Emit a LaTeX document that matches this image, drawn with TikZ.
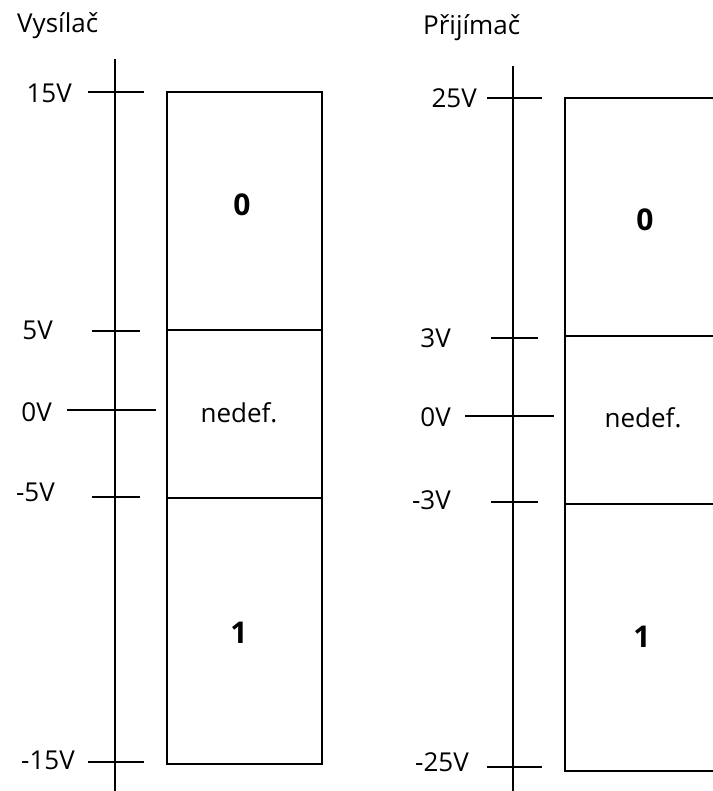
\documentclass[tikz,border=0pt]{standalone}
\usepackage{fontspec}
\setmainfont{Open Sans}
\begin{document}
\begin{tikzpicture}[x=1pt,y=-1pt,
  ln/.style={line width=2pt,black},
  lbl/.style={anchor=east,inner sep=0pt,font=\fontsize{26}{30}\selectfont},
  val/.style={inner sep=0pt,font=\fontsize{26}{30}\selectfont},
  bit/.style={inner sep=0pt,font=\fontsize{30}{34}\selectfont\bfseries},
  ttl/.style={anchor=base west,inner sep=0pt,font=\fontsize{26}{30}\selectfont}]
\useasboundingbox (0,0) rectangle (712,791);

% transmitter side
\node[ttl] (tT) at (17,33) {Vysílač};
\coordinate (aTtop) at (115,59);
\coordinate (aTbot) at (115,791);
\draw[ln] (aTtop) -- (aTbot);
\draw[ln] (88,92) -- (144,92);
\draw[ln] (92,331) -- (140,331);
\draw[ln] (67,410) -- (156,410);
\draw[ln] (92,497) -- (140,497);
\draw[ln] (88,762) -- (144,762);
\node[lbl] (t15) at (72,93) {15V};
\node[lbl] (t5) at (53,330) {5V};
\node[lbl] (t0) at (52,412) {0V};
\node[lbl] (tm5) at (55,492) {-5V};
\node[lbl] (tm15) at (75,760) {-15V};
\draw[ln] (167,92) rectangle (322,764);
\draw[ln] (167,330) -- (322,330);
\draw[ln] (167,498) -- (322,498);
\node[bit] (tz) at (242,205) {0};
\node[val] (tn) at (239,413) {nedef.};
\node[bit] (to) at (239,633) {1};

% receiver side
\node[ttl] (rT) at (423,35) {Přijímač};
\coordinate (aRtop) at (513,66);
\coordinate (aRbot) at (513,791);
\draw[ln] (aRtop) -- (aRbot);
\draw[ln] (487,98) -- (542,98);
\draw[ln] (491,338) -- (538,338);
\draw[ln] (465,416) -- (554,416);
\draw[ln] (491,502) -- (538,502);
\draw[ln] (487,767) -- (542,767);
\node[lbl] (r25) at (477,98) {25V};
\node[lbl] (r3) at (451,338) {3V};
\node[lbl] (r0) at (451,417) {0V};
\node[lbl] (rm3) at (451,500) {-3V};
\node[lbl] (rm25) at (469,762) {-25V};
\draw[ln] (720,98) -- (565,98) -- (565,771) -- (720,771);
\draw[ln] (565,336) -- (720,336);
\draw[ln] (565,504) -- (720,504);
\node[bit] (rz) at (645,220) {0};
\node[val] (rn) at (643,418) {nedef.};
\node[bit] (ro) at (642,637) {1};
\end{tikzpicture}
\end{document}
